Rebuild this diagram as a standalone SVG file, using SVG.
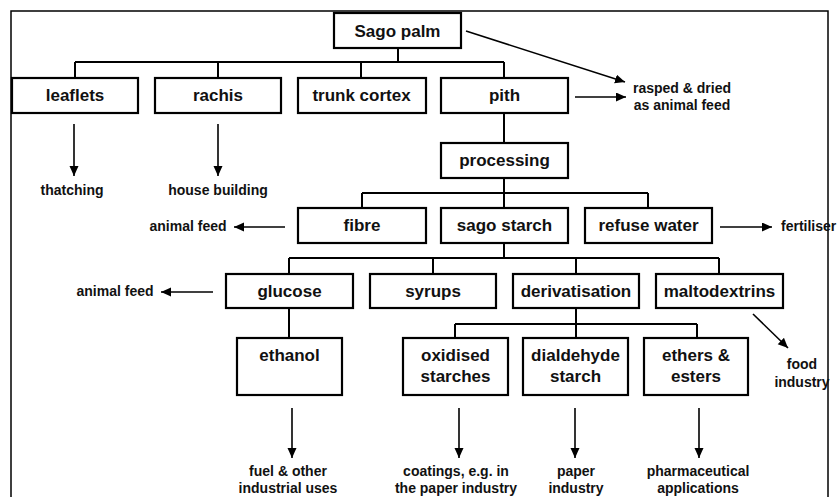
<svg xmlns="http://www.w3.org/2000/svg" width="838" height="497" viewBox="0 0 838 497">
<defs>
<marker id="ah" markerWidth="11" markerHeight="10" refX="10" refY="4.5" orient="auto" markerUnits="userSpaceOnUse">
<path d="M0,0 L10,4.5 L0,9 z" fill="#000"/>
</marker>
<style>
.box{fill:#fff;stroke:#000;stroke-width:2.2}
.t{font-family:"Liberation Sans",Arial,sans-serif;font-weight:bold;font-size:17px;text-anchor:middle;fill:#111}
.s{font-family:"Liberation Sans",Arial,sans-serif;font-weight:bold;font-size:14px;text-anchor:middle;fill:#111}
.ln{fill:none;stroke:#000;stroke-width:2}
.ar{fill:none;stroke:#000;stroke-width:1.6;marker-end:url(#ah)}
</style>
</defs>
<rect x="0" y="0" width="838" height="497" fill="#fff"/>
<rect x="11" y="11" width="817" height="500" fill="none" stroke="#000" stroke-width="1.5"/>
<g id="connectors">
<path class="ln" d="M398,48 V62 M75,62 H504 M75,62 V78 M218,62 V78 M361,62 V78 M504,62 V78"/>
<path class="ln" d="M504,113 V143 M504,178 V193 M362,193 H648 M362,193 V208 M504,193 V208 M648,193 V208"/>
<path class="ln" d="M504,243 V258 M289,258 H719 M289,258 V274 M433,258 V274 M576,258 V274 M719,258 V274"/>
<path class="ln" d="M289,308 V338 M576,308 V324 M455,324 H697 M455,324 V338 M576,324 V338 M697,324 V338"/>
<path class="ar" d="M466,31 L625,82"/>
<path class="ar" d="M575,97 H626"/>
<path class="ar" d="M74,124 V176"/>
<path class="ar" d="M218,124 V176"/>
<path class="ar" d="M285,227 H234"/>
<path class="ar" d="M720,227 H772"/>
<path class="ar" d="M213,292 H161"/>
<path class="ar" d="M753,314 L788,348"/>
<path class="ar" d="M292,408 V458"/>
<path class="ar" d="M459,408 V458"/>
<path class="ar" d="M575,408 V458"/>
<path class="ar" d="M699,408 V458"/>
</g>
<g id="sago-palm"><rect class="box" x="334" y="13" width="127" height="35"/><text class="t" x="397.5" y="37">Sago palm</text></g>
<g id="leaflets"><rect class="box" x="12" y="78" width="126" height="35"/><text class="t" x="75" y="101">leaflets</text></g>
<g id="rachis"><rect class="box" x="155" y="78" width="126" height="35"/><text class="t" x="218" y="101">rachis</text></g>
<g id="trunk-cortex"><rect class="box" x="298" y="78" width="128" height="35"/><text class="t" x="361.5" y="101">trunk cortex</text></g>
<g id="pith"><rect class="box" x="441" y="78" width="127" height="35"/><text class="t" x="504.5" y="101">pith</text></g>
<g id="processing"><rect class="box" x="441" y="143" width="127" height="35"/><text class="t" x="504.5" y="166">processing</text></g>
<g id="fibre"><rect class="box" x="298" y="208" width="128" height="35"/><text class="t" x="362" y="231">fibre</text></g>
<g id="sago-starch"><rect class="box" x="441" y="208" width="127" height="35"/><text class="t" x="504.5" y="231">sago starch</text></g>
<g id="refuse-water"><rect class="box" x="585" y="208" width="127" height="35"/><text class="t" x="648.5" y="231">refuse water</text></g>
<g id="glucose"><rect class="box" x="226" y="274" width="127" height="34"/><text class="t" x="289.5" y="297">glucose</text></g>
<g id="syrups"><rect class="box" x="370" y="274" width="126" height="34"/><text class="t" x="433" y="297">syrups</text></g>
<g id="derivatisation"><rect class="box" x="513" y="274" width="126" height="34"/><text class="t" x="576" y="297">derivatisation</text></g>
<g id="maltodextrins"><rect class="box" x="656" y="274" width="127" height="34"/><text class="t" x="719.5" y="297">maltodextrins</text></g>
<g id="ethanol"><rect class="box" x="237" y="338" width="105" height="57"/><text class="t" x="289.5" y="361">ethanol</text></g>
<g id="oxidised-starches"><rect class="box" x="403" y="338" width="105" height="57"/><text class="t" x="455.5" y="361">oxidised</text><text class="t" x="455.5" y="382">starches</text></g>
<g id="dialdehyde-starch"><rect class="box" x="523" y="338" width="105" height="57"/><text class="t" x="575.5" y="361">dialdehyde</text><text class="t" x="575.5" y="382">starch</text></g>
<g id="ethers-esters"><rect class="box" x="644" y="338" width="104" height="57"/><text class="t" x="696" y="361">ethers &amp;</text><text class="t" x="696" y="382">esters</text></g>
<g id="labels">
<text class="s" x="682" y="93">rasped &amp; dried</text>
<text class="s" x="682" y="110">as animal feed</text>
<text class="s" x="72" y="195">thatching</text>
<text class="s" x="218" y="195">house building</text>
<text class="s" x="188" y="231">animal feed</text>
<text class="s" x="781" y="231" style="text-anchor:start">fertiliser</text>
<text class="s" x="115" y="296">animal feed</text>
<text class="s" x="802" y="369">food</text>
<text class="s" x="802" y="387">industry</text>
<text class="s" x="288" y="476">fuel &amp; other</text>
<text class="s" x="288" y="493">industrial uses</text>
<text class="s" x="456" y="476">coatings, e.g. in</text>
<text class="s" x="456" y="493">the paper industry</text>
<text class="s" x="576" y="476">paper</text>
<text class="s" x="576" y="493">industry</text>
<text class="s" x="698" y="476">pharmaceutical</text>
<text class="s" x="698" y="493">applications</text>
</g>
</svg>
